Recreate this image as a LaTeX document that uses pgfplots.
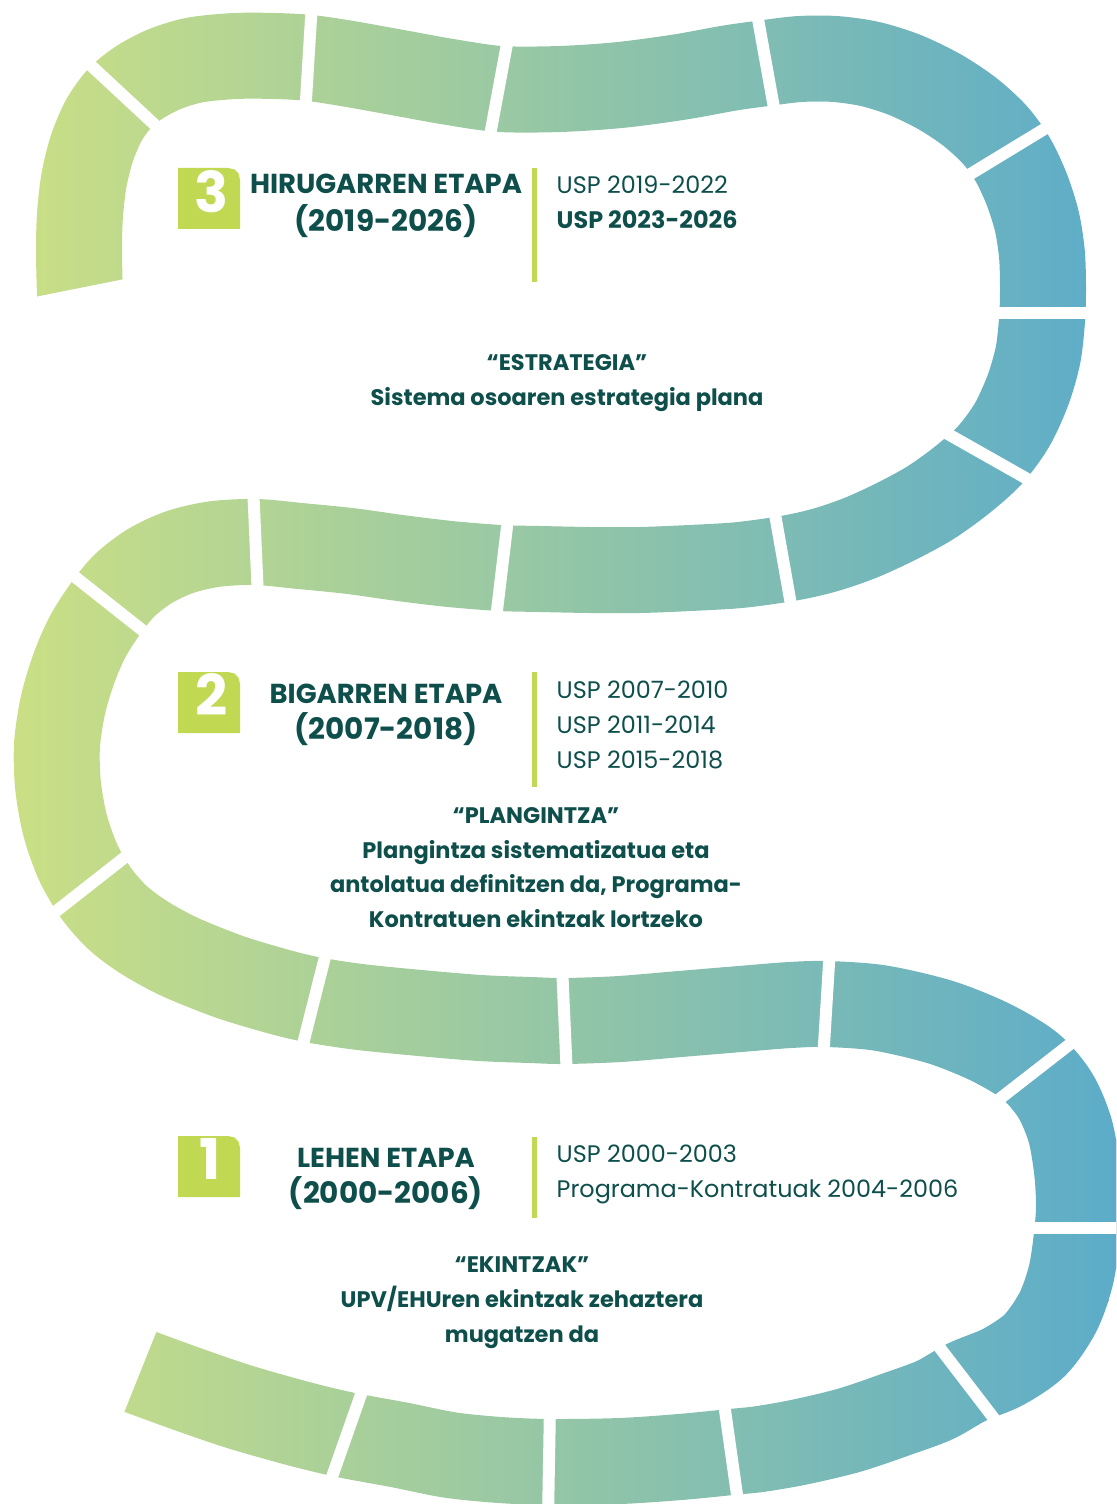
\documentclass[border=0pt]{standalone}
\usepackage{fontspec}
\setmainfont{Poppins}
\usepackage{pgfplots}
\usepackage{pgfplotstable}
\pgfplotsset{compat=1.18}
\definecolor{ink}{RGB}{14,79,76}
\definecolor{lime}{RGB}{192,216,82}
\definecolor{roadL}{RGB}{204,224,132}
\definecolor{roadR}{RGB}{92,172,201}
\newcommand{\ttl}{\fontsize{7.8}{9}\bfseries}
\newcommand{\yrs}{\fontsize{8.4}{10}\bfseries}
\newcommand{\usp}{\fontsize{6.8}{8}\selectfont}
\newcommand{\bdy}{\fontsize{6.4}{8}\bfseries}
\newcommand{\num}{\fontsize{16}{17}\bfseries}
\tikzset{lbl/.style={text=ink,inner sep=0pt,text height=0.7em,text depth=0pt}}

% centre line of the road (pixels, y downwards)
\pgfplotstableread{
x y
82 340
80 295
79 250
80 215
84 180
92 148
104 120
120 98
140 82
165 69
195 60
235 56
275 56
310 58
350 64
400 73
450 82
500 89
560 89
620 85
680 77
730 68
766 63
800 59
835 59
870 64
905 75
940 92
970 112
995 135
1013 160
1027 190
1037 222
1042 255
1043 290
1042 320
1038 355
1028 390
1012 425
990 455
962 480
930 503
895 522
860 538
825 550
790 558
740 565
690 568
640 570
590 570
540 569
500 568
450 564
400 558
350 551
300 546
256 542
215 544
180 552
150 566
125 585
106 608
88 636
74 668
63 705
57 745
58 785
65 825
78 862
96 893
118 918
145 938
180 957
230 977
280 992
314 1000
360 1007
420 1013
480 1018
530 1020
565 1021
620 1019
680 1014
740 1009
790 1005
827 1004
880 1008
940 1022
990 1042
1030 1066
1055 1095
1070 1130
1077 1170
1079 1205
1077 1235
1071 1275
1058 1312
1035 1345
1003 1367
967 1382
935 1400
900 1413
850 1430
800 1442
760 1449
731 1452
680 1457
620 1461
550 1462
500 1460
450 1455
400 1445
346 1435
300 1424
240 1407
190 1390
138 1371
110 1360
}\road

\begin{document}
\begin{tikzpicture}
\begin{axis}[width=11.16cm,height=15.04cm,scale only axis,
	xmin=0,xmax=1116,ymin=0,ymax=1504,y dir=reverse,axis lines=none]
% white page, black road, then the left-right gradient screened over it
\addplot[fill=white,draw=none] coordinates {(-40,-40) (1156,-40) (1156,1544) (-40,1544)} --cycle;
\addplot[black,smooth,line width=8.6mm,line cap=round,line join=round] table {\road};
\addplot[draw=none,left color=roadL,right color=roadR,blend mode=screen]
	coordinates {(0,0) (1108,0) (1108,1030) (1116,1030) (1116,1300) (1108,1300) (1108,1504) (0,1504)} --cycle;
% straight ends of the road
\addplot[fill=white,draw=none] coordinates {(0,304) (140,276) (140,400) (0,400)} --cycle;
\addplot[fill=white,draw=none] coordinates {(113,1440) (169,1300) (20,1300) (20,1440)} --cycle;
% white cuts between the blocks
\pgfplotsset{cut/.style={white,line width=1.2mm}}
\addplot[cut] coordinates {(85,60) (169,138)};
\addplot[cut] coordinates {(312,2) (305,116)};
\addplot[cut] coordinates {(509,33) (488,146)};
\addplot[cut] coordinates {(756,8) (776,119)};
\addplot[cut] coordinates {(1051,125) (954,184)};
\addplot[cut] coordinates {(1100,313) (985,313)};
\addplot[cut] coordinates {(1038,485) (939,429)};
\addplot[cut] coordinates {(793,616) (773,503)};
\addplot[cut] coordinates {(495,627) (509,510)};
\addplot[cut] coordinates {(258,598) (253,485)};
\addplot[cut] coordinates {(156,641) (65,569)};
\addplot[cut] coordinates {(138,847) (50,916)};
\addplot[cut] coordinates {(300,1056) (328,945)};
\addplot[cut] coordinates {(567,1078) (562,965)};
\addplot[cut] coordinates {(830,947) (823,1061)};
\addplot[cut] coordinates {(1083,1034) (993,1104)};
\addplot[cut] coordinates {(1130,1228) (1020,1228)};
\addplot[cut] coordinates {(930,1335) (999,1425)};
\addplot[cut] coordinates {(723,1396) (739,1509)};
\addplot[cut] coordinates {(548,1519) (550,1405)};
\addplot[cut] coordinates {(365,1383) (327,1491)};
% number boxes
\addplot[fill=lime,draw=none] coordinates {(178,229) (178,168) (228,168) (234.5,169.5) (238.5,173.5) (240,180) (240,229)} --cycle;
\addplot[fill=lime,draw=none] coordinates {(178,733) (178,672) (228,672) (234.5,673.5) (238.5,677.5) (240,684) (240,733)} --cycle;
\addplot[fill=lime,draw=none] coordinates {(178,1197) (178,1136) (228,1136) (234.5,1137.5) (238.5,1141.5) (240,1148) (240,1197)} --cycle;
% separators
\addplot[lime,line width=0.5mm] coordinates {(534,168) (534,282)};
\addplot[lime,line width=0.5mm] coordinates {(534,672) (534,787)};
\addplot[lime,line width=0.5mm] coordinates {(534,1137) (534,1218)};
% stage 3
\node[lbl,text=white] at (212,200) {\num 3};
\node[lbl] at (386,181) {\ttl HIRUGARREN ETAPA};
\node[lbl] at (386,219) {\yrs (2019-2026)};
\node[lbl,anchor=west] at (556,181) {\usp USP 2019-2022};
\node[lbl,anchor=west] at (556,216) {\usp\bfseries USP 2023-2026};
\node[lbl] at (567,358) {\bdy “ESTRATEGIA”};
\node[lbl] at (567,393) {\bdy Sistema osoaren estrategia plana};
% stage 2
\node[lbl,text=white] at (212,703) {\num 2};
\node[lbl] at (386,691) {\ttl BIGARREN ETAPA};
\node[lbl] at (386,727) {\yrs (2007-2018)};
\node[lbl,anchor=west] at (556,686) {\usp USP 2007-2010};
\node[lbl,anchor=west] at (556,721) {\usp USP 2011-2014};
\node[lbl,anchor=west] at (556,756) {\usp USP 2015-2018};
\node[lbl] at (536,811) {\bdy “PLANGINTZA”};
\node[lbl] at (536,846) {\bdy Plangintza sistematizatua eta};
\node[lbl] at (536,880) {\bdy antolatua definitzen da, Programa-};
\node[lbl] at (536,915) {\bdy Kontratuen ekintzak lortzeko};
% stage 1
\node[lbl,text=white] at (210,1167) {\num 1};
\node[lbl] at (386,1155) {\ttl LEHEN ETAPA};
\node[lbl] at (386,1191) {\yrs (2000-2006)};
\node[lbl,anchor=west] at (556,1150) {\usp USP 2000-2003};
\node[lbl,anchor=west] at (556,1185) {\usp Programa-Kontratuak 2004-2006};
\node[lbl] at (522,1260) {\bdy “EKINTZAK”};
\node[lbl] at (522,1295) {\bdy UPV/EHUren ekintzak zehaztera};
\node[lbl] at (522,1330) {\bdy mugatzen da};
\end{axis}
\end{tikzpicture}
\end{document}
